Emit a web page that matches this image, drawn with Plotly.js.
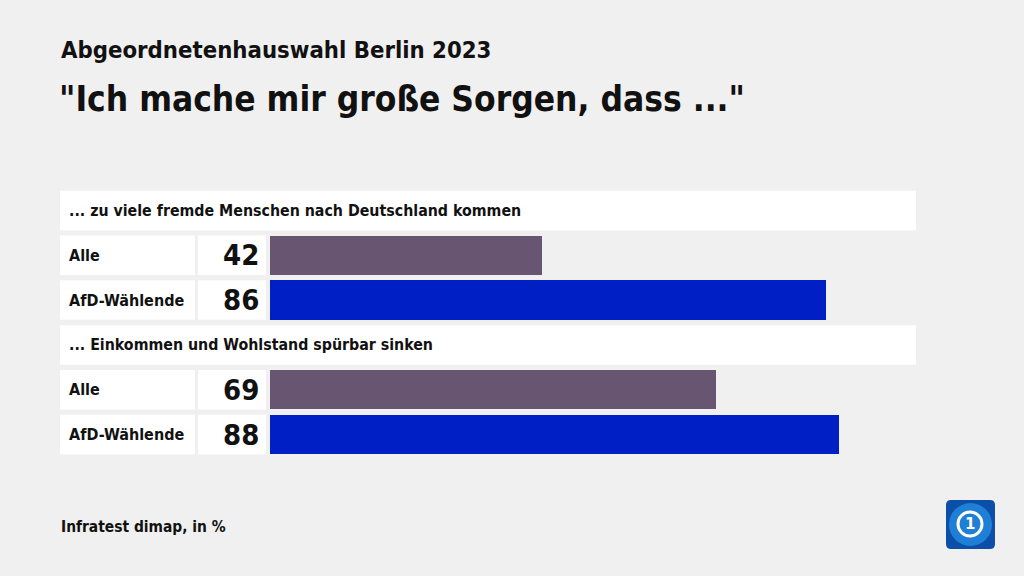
<!DOCTYPE html>
<html><head><meta charset="utf-8">
<script src="https://cdn.plot.ly/plotly-3.0.1.min.js"></script>
<style>html,body{margin:0;padding:0;background:#f0f0f0;}</style>
</head><body><div id="chart" style="width:1024px;height:576px;"></div>
<script>
const questions = ["... zu viele fremde Menschen nach Deutschland kommen", "... Einkommen und Wohlstand spürbar sinken"];
const groups = ["Alle", "AfD-Wählende"];
const valuesAlle = [42, 69];
const valuesAfD = [86, 88];
const colors = ["#675572", "#0020c6"];
const FONT = "DejaVu Sans Condensed, DejaVu Sans, sans-serif";

const W = 1024, H = 576;
const px = v => v / W;
const py = v => 1 - v / H;
const series = [valuesAlle, valuesAfD];
const traces = [];
const shapes = [];
const annotations = [];
const rowH = 0.44;

questions.forEach((q, qi) => {
  const hRow = qi * 3;
  shapes.push({type:"rect", xref:"paper", yref:"y", x0:px(60), x1:px(916), y0:hRow-rowH, y1:hRow+rowH, fillcolor:"#ffffff", line:{width:0}, layer:"below"});
  annotations.push({xref:"paper", yref:"y", x:px(67), y:hRow, text:"<b>"+q+"</b>", showarrow:false, xanchor:"left", yanchor:"middle", font:{family:FONT, size:15.8, color:"#111"}});
  groups.forEach((g, gi) => {
    const r = hRow + 1 + gi;
    shapes.push({type:"rect", xref:"paper", yref:"y", x0:px(60), x1:px(195), y0:r-rowH, y1:r+rowH, fillcolor:"#ffffff", line:{width:0}, layer:"below"});
    shapes.push({type:"rect", xref:"paper", yref:"y", x0:px(198), x1:px(266), y0:r-rowH, y1:r+rowH, fillcolor:"#ffffff", line:{width:0}, layer:"below"});
    annotations.push({xref:"paper", yref:"y", x:px(67), y:r, text:"<b>"+g+"</b>", showarrow:false, xanchor:"left", yanchor:"middle", font:{family:FONT, size:16, color:"#111"}});
    annotations.push({xref:"paper", yref:"y", x:px(261), y:r, text:"<b>"+series[gi][qi]+"</b>", showarrow:false, xanchor:"right", yanchor:"middle", font:{family:FONT, size:29, color:"#111"}});
  });
});

groups.forEach((g, gi) => {
  traces.push({
    type:"bar", orientation:"h", name:g,
    x: series[gi],
    y: questions.map((q, qi) => qi*3 + 1 + gi),
    marker:{color:colors[gi], line:{width:0}},
    width: 0.88, hoverinfo:"skip", showlegend:false
  });
});

annotations.push({xref:"paper", yref:"paper", x:px(59), y:py(50), text:"<b>Abgeordnetenhauswahl Berlin 2023</b>", showarrow:false, xanchor:"left", yanchor:"middle", font:{family:FONT, size:23.7, color:"#111"}});
annotations.push({xref:"paper", yref:"paper", x:px(57), y:py(99), text:"<b>\"Ich mache mir große Sorgen, dass ...\"</b>", showarrow:false, xanchor:"left", yanchor:"middle", font:{family:FONT, size:35, color:"#111"}});
annotations.push({xref:"paper", yref:"paper", x:px(59), y:py(527), text:"<b>Infratest dimap, in %</b>", showarrow:false, xanchor:"left", yanchor:"middle", font:{family:FONT, size:15.4, color:"#111"}});

// logo (rounded square with globe and "1")
function roundRect(x0, y0, x1, y1, r) {
  const X = v => px(v), Y = v => py(v);
  return `M ${X(x0+r)} ${Y(y0)} L ${X(x1-r)} ${Y(y0)} Q ${X(x1)} ${Y(y0)} ${X(x1)} ${Y(y0+r)} L ${X(x1)} ${Y(y1-r)} Q ${X(x1)} ${Y(y1)} ${X(x1-r)} ${Y(y1)} L ${X(x0+r)} ${Y(y1)} Q ${X(x0)} ${Y(y1)} ${X(x0)} ${Y(y1-r)} L ${X(x0)} ${Y(y0+r)} Q ${X(x0)} ${Y(y0)} ${X(x0+r)} ${Y(y0)} Z`;
}
shapes.push({type:"path", xref:"paper", yref:"paper", path:roundRect(946, 500, 995, 549, 5), fillcolor:"#0b4fa8", line:{width:0}});
shapes.push({type:"circle", xref:"paper", yref:"paper", x0:px(949), x1:px(992), y0:py(546), y1:py(503), fillcolor:"#1f7fd6", line:{width:0}});
shapes.push({type:"circle", xref:"paper", yref:"paper", x0:px(958), x1:px(982), y0:py(536), y1:py(512), fillcolor:"rgba(0,0,0,0)", line:{color:"#ffffff", width:3}});
annotations.push({xref:"paper", yref:"paper", x:px(970), y:py(524), text:"<b>1</b>", showarrow:false, xanchor:"center", yanchor:"middle", font:{family:"DejaVu Sans", size:15, color:"#ffffff"}});

const layout = {
  width:1024, height:576,
  paper_bgcolor:"#f0f0f0", plot_bgcolor:"rgba(0,0,0,0)",
  margin:{l:0, r:0, t:0, b:0, pad:0},
  xaxis:{domain:[px(270), px(916.5)], range:[0,100], visible:false, fixedrange:true},
  yaxis:{domain:[py(457), py(188)], range:[5.5,-0.5], visible:false, fixedrange:true},
  bargap:0, shapes:shapes, annotations:annotations, showlegend:false
};
Plotly.newPlot("chart", traces, layout, {displayModeBar:false, staticPlot:true});
</script></body></html>
